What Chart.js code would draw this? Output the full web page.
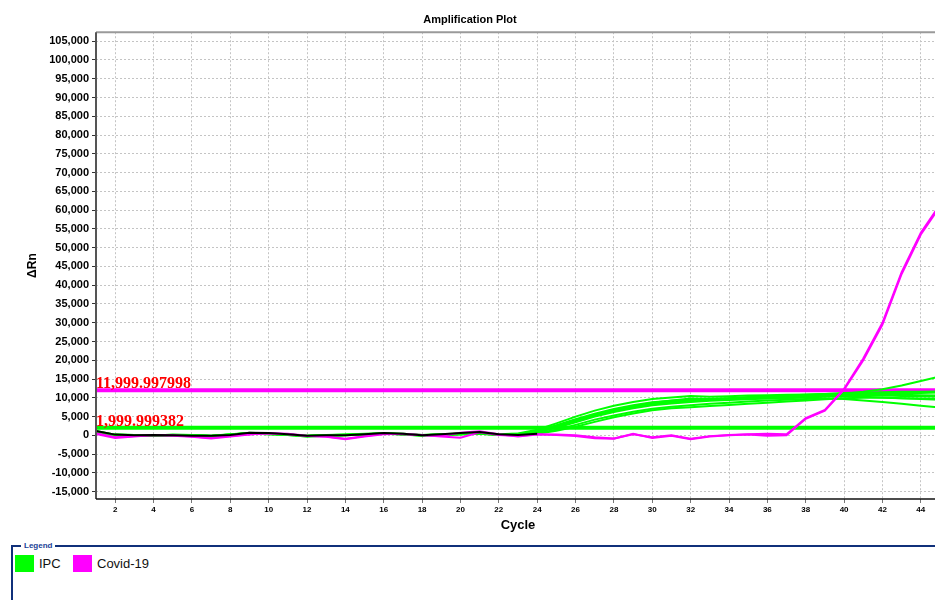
<!DOCTYPE html>
<html>
<head>
<meta charset="utf-8">
<script src="https://cdn.jsdelivr.net/npm/chart.js@4/dist/chart.umd.min.js"></script>
<style>
  html, body { margin: 0; padding: 0; background: #fff; overflow: hidden; width: 935px; height: 600px; }
  #wrap { position: relative; width: 935px; height: 600px; }
  #plot { position: absolute; left: 0; top: 0; }
  .legendBox { position: absolute; left: 11px; top: 545px; width: 960px; height: 70px;
    border-top: 2px solid #10307a; border-left: 2px solid #10307a; font-family: "Liberation Sans", Arial, sans-serif; }
  .legendBox .cap { position: absolute; left: 8px; top: -6px; background: #fff; padding: 0 3px;
    font-size: 8px; font-weight: bold; color: #1a3f96; line-height: 10px; }
  .legendBox .item { position: absolute; top: 8px; height: 17px; line-height: 18px; font-size: 13px; color: #111; }
  .legendBox .sw { display: inline-block; width: 19px; height: 17px; vertical-align: top; margin-right: 5px; }
</style>
</head>
<body>
<div id="wrap">
  <canvas id="plot" width="960" height="540"></canvas>
  <div class="legendBox">
    <span class="cap">Legend</span>
    <div id="legendItems"></div>
  </div>
</div>
<script>
// cycles 1..45
const cycles = [1,2,3,4,5,6,7,8,9,10,11,12,13,14,15,16,17,18,19,20,21,22,23,24,25,26,27,28,29,30,31,32,33,34,35,36,37,38,39,40,41,42,43,44,45];

// IPC replicates (delta Rn)
const ipcA = [1000,100,0,-100,100,0,-200,200,600,400,200,-200,0,100,300,500,300,0,200,400,500,200,300,900,2200,3800,5200,6400,7400,8200,8700,9100,9400,9700,9900,10100,10300,10500,10800,11100,11600,12300,13300,14500,15700];
const ipcB = [900,0,-100,0,0,-100,-300,100,500,300,100,-300,-100,0,200,400,300,-100,100,300,400,100,200,600,1500,2800,4200,5300,6300,7100,7600,8000,8400,8700,9000,9300,9500,9700,9800,9700,9300,8900,8400,7900,7400];
const ipcC = [1100,200,100,-100,200,100,-100,300,600,500,200,-100,0,200,300,500,400,100,200,300,400,300,400,1200,2700,4300,5800,7000,8000,8800,9200,9500,9700,9900,10100,10300,10500,10700,10900,11000,11100,11200,11300,11300,11400];
const ipcD = [1000,100,0,0,100,0,-200,100,500,400,300,-200,-100,100,200,500,300,0,100,400,500,200,300,1000,2400,4000,5500,6700,7700,8500,9000,9300,9400,9600,9800,9900,10100,10300,10500,10700,10700,10600,10500,10400,10300];
const ipcE = [800,0,-100,-200,0,-100,-300,100,500,300,100,-300,-100,0,200,400,200,-100,100,300,400,100,100,400,1200,2300,3600,4800,5800,6700,7200,7500,7800,8100,8400,8700,9000,9300,9600,9900,10000,10000,9900,9800,9700];
const ipcF = [1200,200,100,0,100,0,-100,200,700,500,300,-100,100,200,400,600,400,100,300,500,600,300,500,1500,3200,5000,6600,7900,8900,9700,10100,10500,10300,10400,10600,10700,10800,10900,11000,11100,11000,10900,10800,10700,10600];
const ipcG = [900,100,0,-100,0,-100,-200,100,600,400,200,-200,0,100,300,500,300,0,200,300,500,200,200,800,2000,3500,5000,6200,7200,8000,8500,8900,9200,9400,9600,9800,9900,10100,10300,10400,10300,10100,9900,9700,9500];
const ipcH = [1000,100,0,-100,100,0,-200,200,600,400,200,-200,0,100,300,500,300,0,200,400,500,200,300,1100,2500,4100,5600,6800,7800,8700,9300,9800,9700,9900,10200,10400,10600,10800,11000,11300,11400,11500,11600,11600,11700];

// Covid-19 replicates
const covidA = [600,-500,-200,0,0,-300,-700,-200,300,500,300,-200,-300,-900,-200,400,300,0,-100,700,1100,300,-300,200,200,0,-500,-800,300,-500,0,-900,-200,100,300,400,300,4600,6800,12400,20500,30000,43500,54000,61500];
const covidB = [400,-700,-300,100,-100,-400,-800,-300,200,600,400,-100,-400,-1000,-300,300,400,100,-300,-600,800,100,-200,300,100,-200,-800,-900,400,-700,-100,-1000,-300,0,200,-100,0,4400,6600,12200,20000,29500,43000,53500,61000];

// dark trace near the baseline (cycles 1..24)
const baseTrace = [1200,200,0,100,0,-100,-100,100,700,600,300,-100,0,0,300,600,400,0,300,600,900,300,100,400];

// thresholds
const thrCovid = 11999.997998;
const thrIPC = 1999.999382;

const yTicks = [-15000,-10000,-5000,0,5000,10000,15000,20000,25000,30000,35000,40000,45000,50000,55000,60000,65000,70000,75000,80000,85000,90000,95000,100000,105000];
const xTicks = [2,4,6,8,10,12,14,16,18,20,22,24,26,28,30,32,34,36,38,40,42,44];

const GREEN = '#00ff00';
const MAGENTA = '#ff00ff';

function pts(vals) {
    return vals.map((v, i) => ({x: cycles[i], y: v}));
}

function curve(vals, color, order) {
    return { data: pts(vals), borderColor: color, borderWidth: 2, pointRadius: 0, tension: 0, fill: false, order: order };
}

const datasets = [];
datasets.push(curve(baseTrace, '#000000', 0));
datasets.push(curve(covidA, MAGENTA, 1));
datasets.push(curve(covidB, MAGENTA, 1));
[ipcA, ipcB, ipcC, ipcD, ipcE, ipcF, ipcG, ipcH].forEach(s => datasets.push(curve(s, GREEN, 2)));
// threshold lines
datasets.push({ data: [{x: cycles[0], y: thrCovid}, {x: cycles[cycles.length-1], y: thrCovid}], borderColor: MAGENTA, borderWidth: 4, pointRadius: 0, order: 3, thrLabel: true });
datasets.push({ data: [{x: cycles[0], y: thrIPC}, {x: cycles[cycles.length-1], y: thrIPC}], borderColor: GREEN, borderWidth: 4, pointRadius: 0, order: 3, thrLabel: true });

// solid frame lines + red threshold labels
const plotExtras = {
    id: 'plotExtras',
    afterDraw(chart) {
        const ctx = chart.ctx;
        const a = chart.chartArea;
        ctx.save();
        ctx.setLineDash([]);
        ctx.lineWidth = 2;
        ctx.strokeStyle = '#9a9a9a';
        ctx.beginPath();
        ctx.moveTo(a.left, a.top);
        ctx.lineTo(a.right, a.top);
        ctx.stroke();
        ctx.strokeStyle = '#555';
        ctx.beginPath();
        ctx.moveTo(a.left, a.top);
        ctx.lineTo(a.left, a.bottom);
        ctx.stroke();
        ctx.strokeStyle = '#111';
        ctx.lineWidth = 1.5;
        ctx.beginPath();
        ctx.moveTo(a.left, a.bottom);
        ctx.lineTo(a.right, a.bottom);
        ctx.stroke();

        const ys = chart.scales.y;
        ctx.fillStyle = '#ff0000';
        ctx.font = 'bold 16px "Liberation Serif", "Times New Roman", serif';
        ctx.textBaseline = 'alphabetic';
        ctx.textAlign = 'left';
        chart.data.datasets.forEach(ds => {
            if (!ds.thrLabel) return;
            const v = ds.data[0].y;
            const txt = v.toLocaleString('en-US', {minimumFractionDigits: 6, maximumFractionDigits: 6});
            ctx.fillText(txt, a.left, ys.getPixelForValue(v) - 2);
        });
        ctx.restore();
    }
};

new Chart(document.getElementById('plot').getContext('2d'), {
    type: 'line',
    data: { datasets: datasets },
    options: {
        responsive: false,
        animation: false,
        events: [],
        layout: { padding: { left: 0, right: 20, top: 0, bottom: 0 } },
        plugins: {
            legend: { display: false },
            tooltip: { enabled: false },
            title: {
                display: true,
                text: 'Amplification Plot',
                color: '#000',
                font: { family: '"Liberation Sans", Arial, sans-serif', size: 11, weight: 'bold' },
                padding: { top: 13, bottom: 6 }
            }
        },
        scales: {
            x: {
                type: 'linear',
                min: 1,
                max: 45,
                afterBuildTicks: s => { s.ticks = xTicks.map(v => ({value: v})); },
                afterFit: s => { s.height = 41; },
                ticks: {
                    color: '#000',
                    padding: 2,
                    maxRotation: 0,
                    autoSkip: false,
                    font: { family: '"Liberation Sans", Arial, sans-serif', size: 8, weight: 'bold' }
                },
                grid: { color: '#c4c4c4', lineWidth: 1, tickLength: 4, tickColor: '#777' },
                border: { display: false, dash: [2, 2] },
                title: {
                    display: true,
                    text: 'Cycle',
                    color: '#000',
                    font: { family: '"Liberation Sans", Arial, sans-serif', size: 13, weight: 'bold' },
                    padding: { top: 0, bottom: 7 }
                }
            },
            y: {
                type: 'linear',
                min: -16950,
                max: 107400,
                afterBuildTicks: s => { s.ticks = yTicks.map(v => ({value: v})); },
                afterFit: s => { s.width = 96; },
                ticks: {
                    color: '#000',
                    padding: 3,
                    autoSkip: false,
                    font: { family: '"Liberation Sans", Arial, sans-serif', size: 11, weight: 'bold' },
                    callback: v => Number(v).toLocaleString('en-US')
                },
                grid: { color: '#c4c4c4', lineWidth: 1, tickLength: 4, tickColor: '#333' },
                border: { display: false, dash: [2, 2] },
                title: {
                    display: true,
                    text: 'ΔRn',
                    color: '#000',
                    font: { family: '"Liberation Sans", Arial, sans-serif', size: 12, weight: 'bold' },
                    padding: { top: 25, bottom: 0 }
                }
            }
        }
    },
    plugins: [plotExtras]
});

// html legend
const legendEntries = [
    { label: 'IPC', color: GREEN, left: 2 },
    { label: 'Covid-19', color: MAGENTA, left: 60 }
];
const holder = document.getElementById('legendItems');
legendEntries.forEach(e => {
    const d = document.createElement('div');
    d.className = 'item';
    d.style.left = e.left + 'px';
    d.innerHTML = '<span class="sw" style="background:' + e.color + '"></span>' + e.label;
    holder.appendChild(d);
});
</script>
</body>
</html>
